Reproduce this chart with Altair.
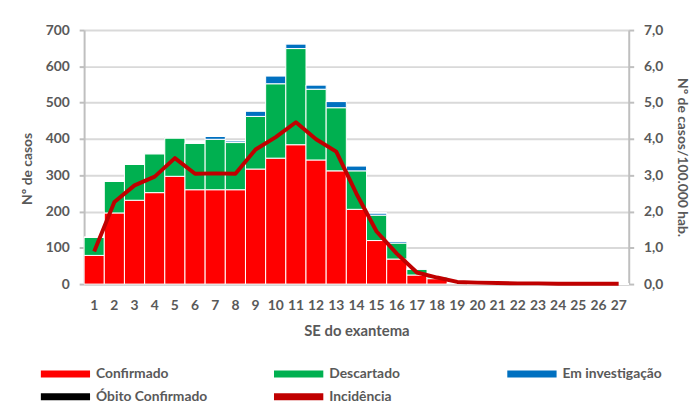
import altair as alt
import pandas as pd

semanas = list(range(1, 28))
confirmado = [79, 196, 231, 252, 297, 260, 260, 260, 317, 347, 384, 342, 312, 206, 120, 69, 25, 15, 2, 0, 0, 0, 0, 0, 0, 0, 0]
descartado = [50, 87, 99, 107, 106, 128, 139, 130, 145, 205, 265, 195, 174, 106, 70, 44, 16, 5, 1, 0, 0, 0, 0, 0, 0, 0, 0]
investigacao = [0, 0, 0, 2, 0, 1, 8, 5, 15, 22, 13, 12, 17, 14, 6, 5, 1, 1, 0, 0, 0, 0, 0, 0, 0, 0, 0]
obito = [0, 0, 0, 0, 1, 0, 0, 0, 0, 0, 0, 0, 0, 0, 0, 0, 0, 0, 0, 0, 0, 0, 0, 0, 0, 0, 0]
incidencia = [0.90, 2.26, 2.72, 2.96, 3.47, 3.04, 3.05, 3.04, 3.71, 4.05, 4.46, 3.99, 3.65, 2.49, 1.45,
              0.84, 0.32, 0.18, 0.06, 0.04, 0.03, 0.02, 0.02, 0.01, 0.01, 0.01, 0.01]

categorias = ["Confirmado", "Descartado", "Em investigação", "Óbito Confirmado", "Incidência"]
cores = ["#ff0000", "#00b050", "#0070c0", "#000000", "#c00000"]
ticks_esq = [0, 100, 200, 300, 400, 500, 600, 700]
ticks_dir = [0, 1, 2, 3, 4, 5, 6, 7]

rows = []
for i, s in enumerate(semanas):
    for k, (nome, serie) in enumerate(zip(categorias[:4], [confirmado, descartado, investigacao, obito])):
        rows.append({"SE": s, "tipo": nome, "casos": serie[i], "ordem": k})
bars_df = pd.DataFrame(rows)
line_df = pd.DataFrame({"SE": semanas, "inc": incidencia})

FONT = "Lato"
GRAY = "#bfbfbf"
TXT = "#595959"

color_scale = alt.Scale(domain=categorias, range=cores)
rect = "M-1,-0.14H1V0.14H-1Z"

legend = alt.Legend(
    title=None, orient="none", direction="horizontal", legendX=-44, legendY=340, columns=3,
    columnPadding=67, rowPadding=7, clipHeight=16, gridAlign="all", symbolType=rect,
    symbolSize=2500, symbolStrokeWidth=0, symbolOpacity=1, labelFont=FONT, labelFontSize=14,
    labelFontWeight="bold", labelColor=TXT, labelOffset=6, labelLimit=300, padding=0,
)

x = alt.X("SE:O", scale=alt.Scale(paddingInner=0, paddingOuter=0),
          axis=alt.Axis(title="SE do exantema", labelAngle=0, ticks=False, labelPadding=15,
                        domainColor=GRAY, domainWidth=2, labelFont=FONT, labelFontSize=14,
                        labelFontWeight="bold", labelColor=TXT, titleFont=FONT, titleFontSize=15,
                        titleFontWeight="bold", titleColor=TXT, titlePadding=11))

bars = alt.Chart(bars_df).mark_bar(stroke="white", strokeWidth=1).encode(
    x=x,
    y=alt.Y("casos:Q", stack="zero", scale=alt.Scale(domain=[0, 700]),
            axis=alt.Axis(title="Nº de casos", values=ticks_esq, grid=True, gridColor="#d9d9d9",
                          gridWidth=2, domainColor=GRAY, domainWidth=2, tickColor=GRAY, tickWidth=2,
                          tickSize=5, labelPadding=10, labelFont=FONT, labelFontSize=14,
                          labelFontWeight="bold", labelColor=TXT, titleFont=FONT, titleFontSize=14,
                          titleFontWeight="bold", titleColor=TXT, titlePadding=11, titleY=140)),
    color=alt.Color("tipo:N", scale=color_scale, legend=legend),
    order=alt.Order("ordem:Q"),
)

line = alt.Chart(line_df).mark_line(strokeWidth=4, strokeJoin="round", color="#c00000").encode(
    x=alt.X("SE:O"),
    y=alt.Y("inc:Q", scale=alt.Scale(domain=[0, 7]),
            axis=alt.Axis(title="Nº de casos/100.000 hab.", orient="right", values=ticks_dir,
                          grid=False, domainColor=GRAY, domainWidth=2, tickColor=GRAY, tickWidth=2,
                          tickSize=5, labelPadding=10, labelFont=FONT, labelFontSize=14,
                          labelFontWeight="bold", labelColor=TXT,
                          labelExpr="replace(format(datum.value, '.1f'), '.', ',')",
                          titleFont=FONT, titleFontSize=14, titleFontWeight="bold",
                          titleColor=TXT, titlePadding=12)),
)

chart = alt.layer(bars, line).resolve_scale(y="independent").properties(
    width=551, height=257,
    padding={"left": 77, "top": 20, "right": 64, "bottom": 118},
    autosize=alt.AutoSizeParams(type="none"),
    background="white",
).configure_view(stroke=None)

chart.save("out.html", embed_options={"renderer": "svg", "actions": False})
